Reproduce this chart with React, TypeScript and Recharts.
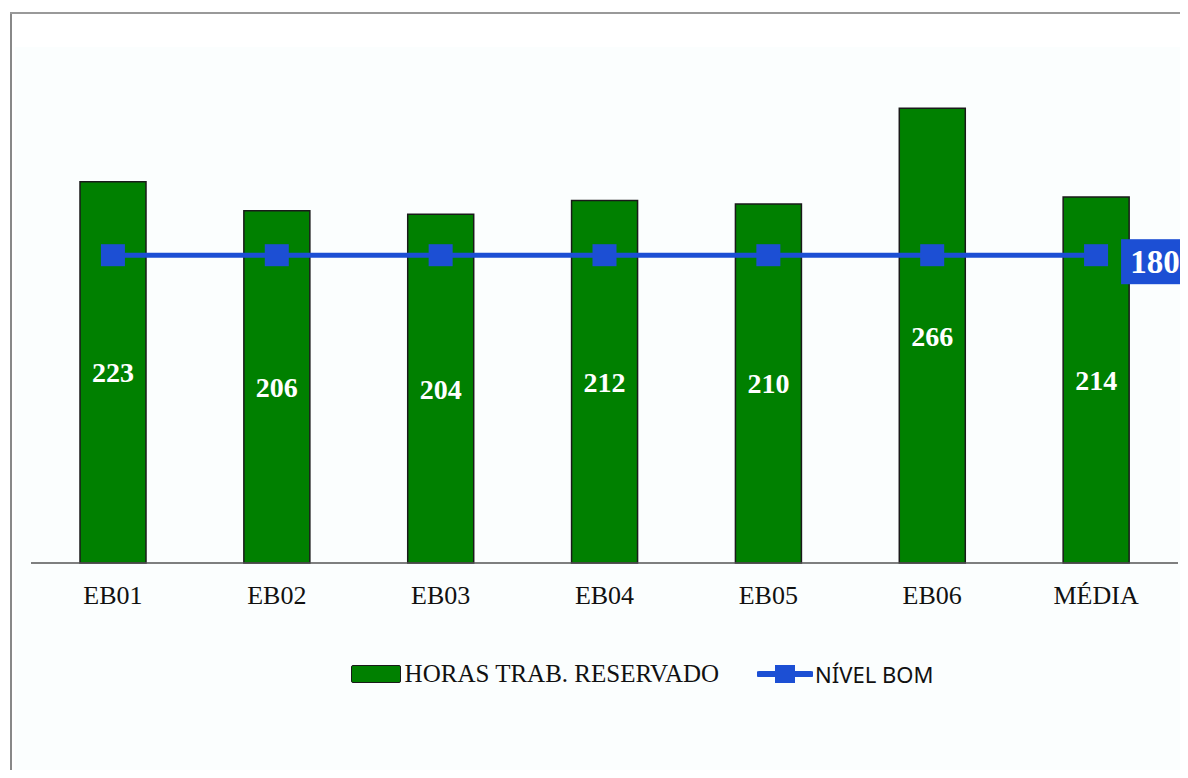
import React from "react";
import {
  ComposedChart,
  Bar,
  Line,
  XAxis,
  YAxis,
  Legend,
  LabelList,
} from "recharts";

const categories = ["EB01", "EB02", "EB03", "EB04", "EB05", "EB06", "MÉDIA"];
const horasReservado = [223, 206, 204, 212, 210, 266, 214];
const nivelBom = [180, 180, 180, 180, 180, 180, 180];

const data = categories.map((name, i) => ({
  name,
  horas: horasReservado[i],
  nivel: nivelBom[i],
}));

const GREEN = "#008000";
const BLUE = "#1c4fd4";

const SquareDot = (props: any) => {
  const { cx, cy } = props;
  if (cx == null || cy == null) return null;
  return <rect x={cx - 12} y={cy - 11} width={24} height={22} fill={BLUE} />;
};

// blue box with the value, drawn only next to the last point
const LastValueLabel = (props: any) => {
  const { x, y, index, value } = props;
  if (index !== data.length - 1) return null;
  return (
    <g>
      <rect x={x + 25} y={y - 16} width={67} height={45} fill={BLUE} />
      <text
        x={x + 59}
        y={y + 18}
        textAnchor="middle"
        fill="#ffffff"
        fontFamily="'Liberation Serif', 'Times New Roman', serif"
        fontWeight="bold"
        fontSize={33}
      >
        {value}
      </text>
    </g>
  );
};

const LegendContent = () => (
  <div
    style={{
      display: "flex",
      alignItems: "center",
      justifyContent: "center",
      paddingLeft: 88,
    }}
  >
    <div
      style={{
        width: 48,
        height: 16,
        background: GREEN,
        border: "1.5px solid #1a1a1a",
        borderRadius: 2,
        marginRight: 4,
      }}
    />
    <span
      style={{
        fontFamily: "'Liberation Serif', 'Times New Roman', serif",
        fontSize: 25,
        color: "#111",
        marginRight: 38,
      }}
    >
      HORAS TRAB. RESERVADO
    </span>
    <svg width={56} height={20} style={{ marginRight: 2 }}>
      <line x1={2} y1={10} x2={54} y2={10} stroke={BLUE} strokeWidth={6} strokeLinecap="round" />
      <rect x={18} y={1} width={20} height={18} fill={BLUE} />
    </svg>
    <span style={{ fontFamily: "'Noto Sans', sans-serif", fontSize: 22, color: "#111" }}>
      NÍVEL BOM
    </span>
  </div>
);

export default function App() {
  return (
    <div style={{ position: "relative", width: 1180, height: 762 }}>
      <style>{"html,body{overflow:hidden}"}</style>
      <div
        style={{
          position: "absolute",
          left: 7,
          top: 39,
          width: 1173,
          height: 723,
          background: "#fbfefe",
        }}
      />
      <div style={{ position: "absolute", left: 2, top: 4, width: 1.5, height: 758, background: "#888" }} />
      <div style={{ position: "absolute", left: 2, top: 4, width: 1178, height: 1.5, background: "#999" }} />
      <div style={{ position: "absolute", left: 0, top: 0 }}>
        <ComposedChart
          width={1180}
          height={760}
          data={data}
          margin={{ top: 42, right: 10, left: 23, bottom: 145 }}
        >
          <XAxis
            dataKey="name"
            height={60}
            tickLine={false}
            axisLine={{ stroke: "#555", strokeWidth: 1.5 }}
            tickMargin={17}
            tick={{
              fill: "#111",
              fontSize: 26,
              fontFamily: "'Liberation Serif', 'Times New Roman', serif",
            }}
          />
          <YAxis hide domain={[0, 300]} />
          <Legend
            verticalAlign="middle"
            layout="horizontal"
            wrapperStyle={{ top: 651, left: 0, width: 1180 }}
            content={<LegendContent />}
          />
          <Bar
            dataKey="horas"
            name="HORAS TRAB. RESERVADO"
            fill={GREEN}
            stroke="#1a1a1a"
            strokeWidth={1.5}
            barSize={66}
            isAnimationActive={false}
          >
            <LabelList
              dataKey="horas"
              position="center"
              fill="#ffffff"
              fontSize={28}
              fontWeight="bold"
              fontFamily="'Liberation Serif', 'Times New Roman', serif"
            />
          </Bar>
          <Line
            dataKey="nivel"
            name="NÍVEL BOM"
            stroke={BLUE}
            strokeWidth={5}
            dot={<SquareDot />}
            activeDot={false}
            isAnimationActive={false}
          >
            <LabelList dataKey="nivel" content={<LastValueLabel />} />
          </Line>
        </ComposedChart>
      </div>
    </div>
  );
}
